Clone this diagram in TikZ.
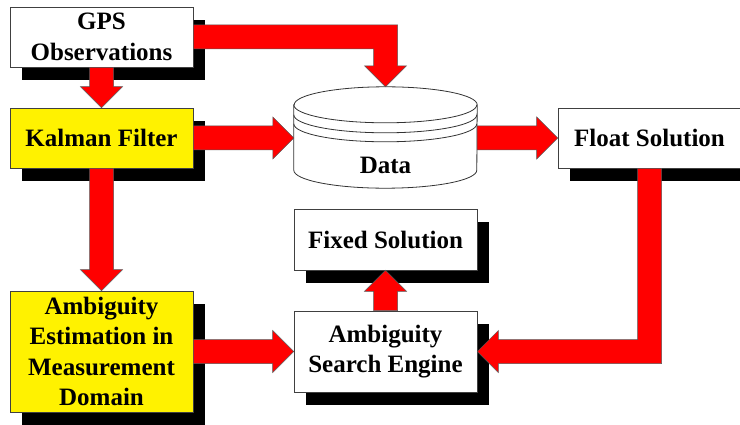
\documentclass[tikz,border=0pt]{standalone}
\usepackage{fontspec}
\setmainfont{Liberation Serif}
\usetikzlibrary{calc,shadows}

\newcommand{\diagfont}{\bfseries\fontsize{25}{30.5}\selectfont}

% straight block arrow: shaft 24pt wide, head 42pt wide and 21pt long
\newcommand{\fatarrow}[2]{%
  \coordinate (hb) at ($(#2)!21pt!(#1)$);
  \filldraw[fat] ($(#1)!12pt!90:(#2)$) -- ($(hb)!12pt!90:(#2)$)
    -- ($(hb)!21pt!90:(#2)$) -- (#2) -- ($(hb)!21pt!-90:(#2)$)
    -- ($(hb)!12pt!-90:(#2)$) -- ($(#1)!12pt!-90:(#2)$) -- cycle;}

\tikzset{
  box/.style={draw=black!75, line width=0.7pt, fill=white, inner sep=0pt,
    minimum width=183pt, minimum height=60pt, align=center, font=\diagfont,
    drop shadow={shadow xshift=12pt, shadow yshift=-13pt, fill=black, opacity=1}},
  hilite/.style={box, fill=yellow},
  fat/.style={fill=red, draw=black!65, line width=0.5pt, line join=miter},
  cyl/.style={draw=black!80, line width=0.8pt, fill=white},
}

\begin{document}
\begin{tikzpicture}[x=1pt,y=1pt]
\useasboundingbox (0,0) rectangle (740,424);
\clip (0,0) rectangle (740,424);

\node[box] (gps) at (101.5,387) {GPS\\Observations};
\node[hilite] (kalman) at (101.5,286) {Kalman Filter};
\node[hilite, minimum height=121pt] (aemd) at (101.5,72.5)
     {Ambiguity\\Estimation in\\Measurement\\Domain};
\node[box, minimum height=61pt] (fixed) at (385.5,184.5) {Fixed Solution};
\node[box, minimum height=81pt] (ase) at (385.5,72.5) {Ambiguity\\Search Engine};
\node[box] (float) at (649.5,286) {Float Solution};

%% data store
\node[minimum width=183pt, minimum height=101pt, inner sep=0pt] (data) at (385.5,286.5) {};
\draw[cyl] ($(data.north west)+(0,-18)$) -- ($(data.south west)+(0,18)$)
     arc[start angle=180, end angle=360, x radius=91.5pt, y radius=18pt]
     -- ($(data.north east)+(0,-18)$)
     arc[start angle=0, end angle=180, x radius=91.5pt, y radius=18pt] -- cycle;
\foreach \dy in {0,10,19}
  \draw[cyl, fill=none] ($(data.north west)+(0,-18-\dy)$)
     arc[start angle=180, end angle=360, x radius=91.5pt, y radius=18pt];
\node[anchor=base, font=\diagfont, inner sep=0pt] (datatext) at (385.5,250) {Data};

%% straight arrows
\fatarrow{gps.south}{kalman.north}
\fatarrow{kalman.east}{kalman.east -| data.west}
\fatarrow{data.east |- float.west}{float.west}
\fatarrow{kalman.south}{aemd.north}
\fatarrow{aemd.east}{ase.west}
\fatarrow{ase.north}{fixed.south}

%% bent arrows
\coordinate (gpsbend) at (gps.east -| data.north);
\filldraw[fat] ($(gps.east)+(0,12)$) -- ($(gpsbend)+(12,12)$)
     -- ($(data.north)+(12,21)$) -- ($(data.north)+(21,21)$) -- (data.north)
     -- ($(data.north)+(-21,21)$) -- ($(data.north)+(-12,21)$)
     -- ($(gpsbend)+(-12,-12)$) -- ($(gps.east)+(0,-12)$) -- cycle;
\coordinate (floatbend) at (float.south |- ase.east);
\filldraw[fat] ($(float.south)+(-12,0)$) -- ($(floatbend)+(-12,12)$)
     -- ($(ase.east)+(21,12)$) -- ($(ase.east)+(21,21)$) -- (ase.east)
     -- ($(ase.east)+(21,-21)$) -- ($(ase.east)+(21,-12)$)
     -- ($(floatbend)+(12,-12)$) -- ($(float.south)+(12,0)$) -- cycle;
\end{tikzpicture}
\end{document}
